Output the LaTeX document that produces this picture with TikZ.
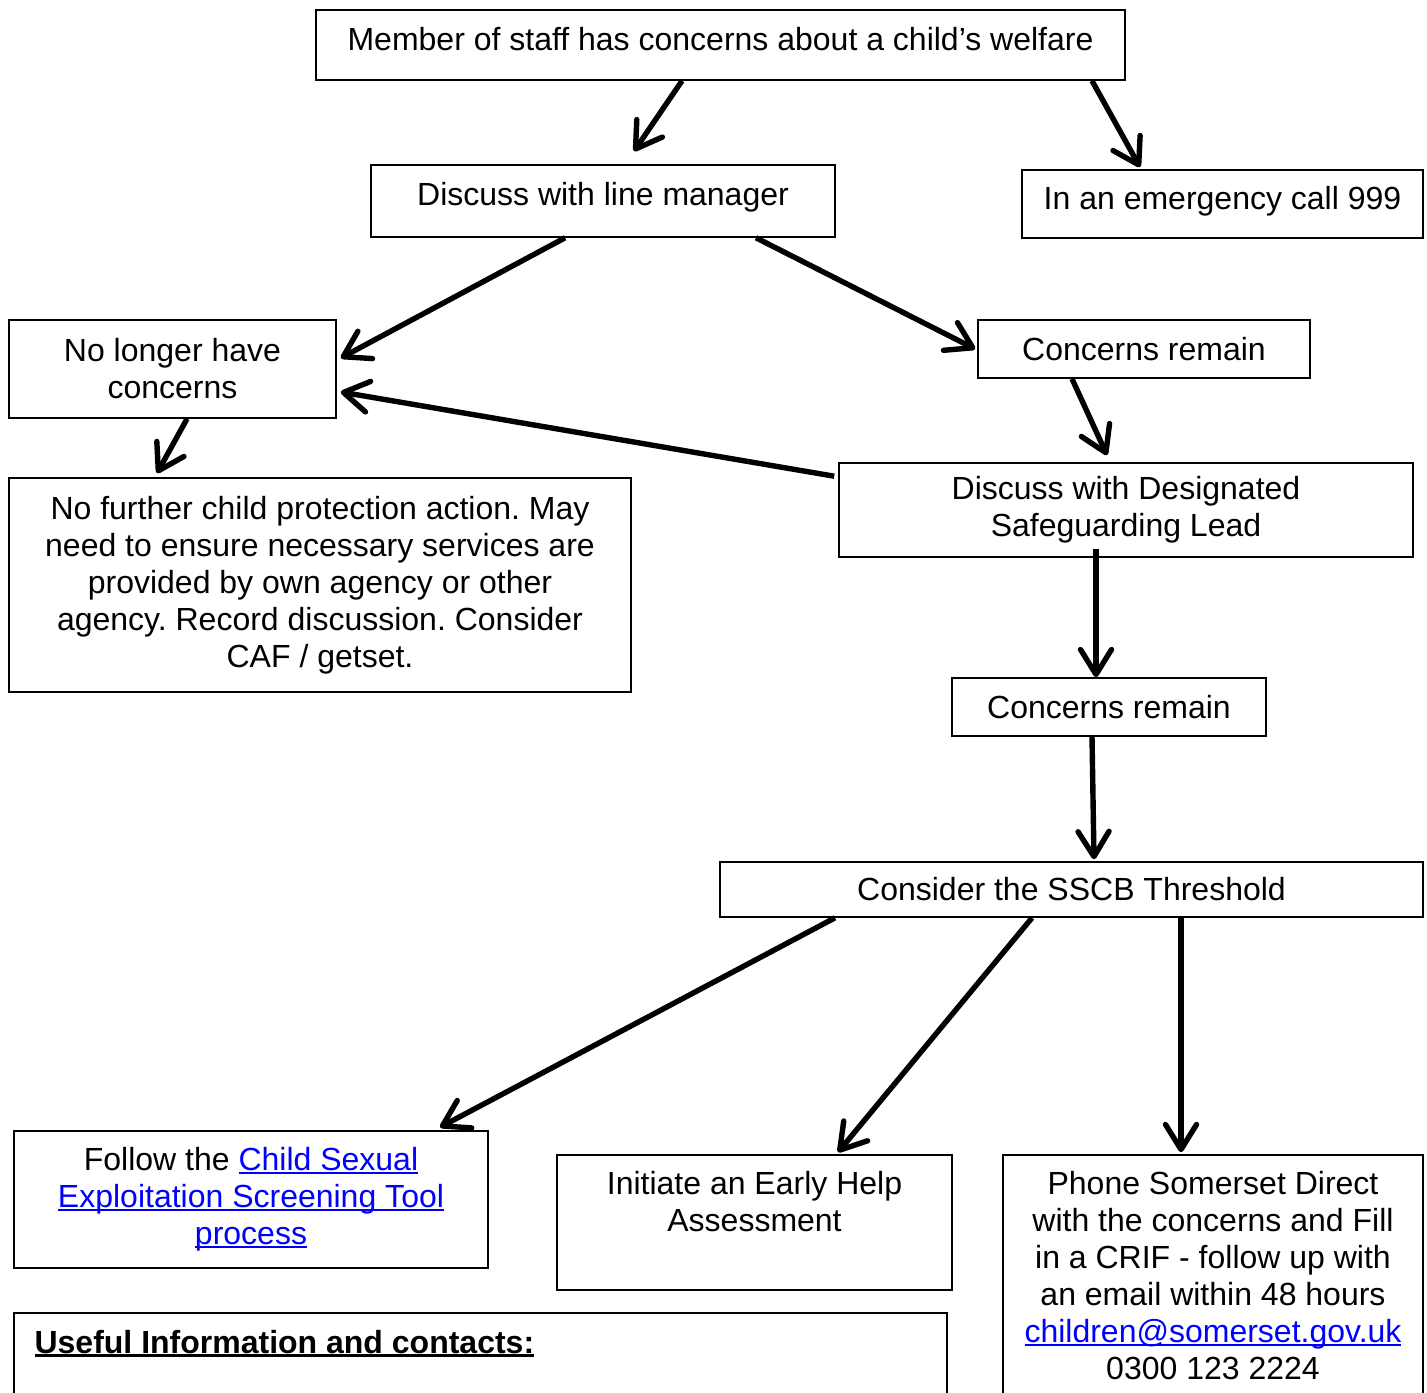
\documentclass[tikz,border=0pt]{standalone}
\usepackage{fontspec}
\setmainfont{Liberation Sans}
\usetikzlibrary{positioning, arrows.meta}
\definecolor{linkblue}{RGB}{0,0,255}
\newsavebox{\ulbox}
\newcommand{\ulined}[2][0.9pt]{\sbox\ulbox{#2}\usebox\ulbox\llap{\rule[-1.6pt]{\wd\ulbox}{#1}}}
\newcommand{\weblink}[1]{{\color{linkblue}\ulined{#1}}}
\frenchspacing

\begin{document}
\begin{tikzpicture}
	[x=0.5pt, y=-0.5pt, font=\fontsize{16}{18.5}\selectfont,
	 box/.style={draw, line width=0.8pt, inner sep=0pt, align=center},
	 txt/.style={inner sep=0pt, align=center},
	 arr/.style={line width=2.7pt, -{Straight Barb[length=12.5pt,width=15.5pt,round]}}]
   \useasboundingbox (0,0) rectangle (1427,1392);
   \clip (0,0) rectangle (1427,1392);
   % boxes
   \node[box, minimum width=404.5pt, minimum height=35pt, text height=12pt, text depth=6.4pt] (staff) at (720.5,45) {Member of staff has concerns about a child’s welfare};
   \node[box, minimum width=232pt, minimum height=36pt, text height=12pt, text depth=7.8pt] (linemgr) at (603,201) {Discuss with line manager};
   \node[box, minimum width=200.5pt, minimum height=34pt, text height=12pt, text depth=6.8pt] (emerg) at (1222.5,204) {In an emergency call 999};
   \node[box, minimum width=163.5pt, minimum height=49pt] (nolonger) at (172.5,369) {No longer have\\concerns};
   \node[box, minimum width=166pt, minimum height=29pt] (remain1) at (1144,349) {Concerns remain};
   \node[box, minimum width=311pt, minimum height=107pt] (nofurther) at (320,585) {No further child protection action. May\\need to ensure necessary services are\\provided by own agency or other\\agency. Record discussion. Consider\\CAF / getset.};
   \node[box, minimum width=287pt, minimum height=47pt] (dsl) at (1126,510) {Discuss with Designated\\Safeguarding Lead};
   \node[box, minimum width=157pt, minimum height=29pt] (remain2) at (1109,707) {Concerns remain};
   \node[box, minimum width=351.5pt, minimum height=27.5pt] (sscb) at (1071.5,889.5) {Consider the SSCB Threshold};
   \node[box, minimum width=237pt, minimum height=68.5pt] (cse) at (251,1199.5) {Follow the \weblink{Child Sexual}\\\weblink{Exploitation Screening Tool}\\\weblink{process}};
   \node[box, minimum width=197.5pt, minimum height=67.5pt] (help) at (754.5,1222.5) {};
   \node[box, minimum width=210pt, minimum height=140pt] (phone) at (1213,1295) {};
   \node[box, minimum width=466.5pt, minimum height=63.5pt] (useful) at (480.5,1376.5) {};
   % texts at the top of the lower boxes
   \node[txt, below=8.5pt of help.north] (helptext) {Initiate an Early Help\\Assessment};
   \node[txt, below=8.5pt of phone.north] (phonetext) {Phone Somerset Direct\\with the concerns and Fill\\in a CRIF - follow up with\\an email within 48 hours\\\weblink{children@somerset.gov.uk}\\0300 123 2224};
   \node[txt, below right=8.75pt and 10.5pt of useful.north west] (usefultext) {\textbf{\ulined[1.4pt]{Useful Information and contacts:}}};
   % connectors
   \path[arr]
    ([xshift=-19.25pt]staff.south)
          edge ([xshift=15.5pt,yshift=6.5pt]linemgr.north)
    ([xshift=185.75pt]staff.south)
          edge ([xshift=-41.25pt,yshift=1pt]emerg.north)
    ([xshift=-19pt]linemgr.south)
          edge ([xshift=2pt,yshift=5.5pt]nolonger.east)
    ([xshift=76.5pt]linemgr.south)
          edge ([xshift=-1pt]remain1.west)
    ([xshift=-2pt,yshift=-7pt]dsl.north west)
          edge ([xshift=2pt,yshift=-11.5pt]nolonger.east)
    ([xshift=7.25pt]nolonger.south)
          edge ([xshift=-81.5pt,yshift=2pt]nofurther.north)
    ([xshift=-36pt]remain1.south)
          edge ([xshift=-9.5pt,yshift=3.5pt]dsl.north)
    ([xshift=-15pt,yshift=4.5pt]dsl.south)
          edge ([xshift=-6.5pt]remain2.north)
    ([xshift=-8.5pt]remain2.south)
          edge ([xshift=11.25pt,yshift=1pt]sscb.north)
    ([xshift=-118.25pt]sscb.south)
          edge ([xshift=94.5pt,yshift=1.5pt]cse.north)
    ([xshift=-19.75pt]sscb.south)
          edge ([xshift=41.75pt,yshift=1pt]help.north)
    ([xshift=54.75pt]sscb.south)
          edge ([xshift=-16pt,yshift=1pt]phone.north);
\end{tikzpicture}
\end{document}
